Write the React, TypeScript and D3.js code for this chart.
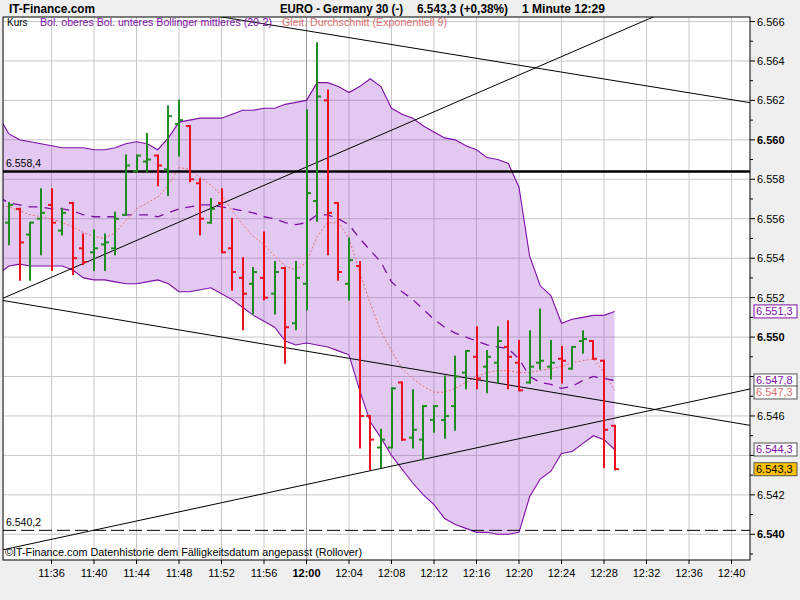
import React from 'react';
import * as d3 from 'd3';

// chart data
const barStart = "11:32";
const opens = [6555.8, 6556.5, 6555.2, 6556.0, 6556.7, 6555.4, 6556.8, 6554.5, 6554.3, 6554.7,
  6554.5, 6556.2, 6558.4, 6558.9, 6559.2, 6558.5, 6560.8, 6560.7, 6557.8, 6555.8,
  6556.8, 6554.5, 6553.0, 6552.7, 6553.0, 6552.2, 6553.5, 6550.7, 6552.7, 6556.9,
  6562.0, 6556.8, 6552.7, 6553.6, 6546.0, 6544.4, 6544.4, 6547.7, 6544.9, 6544.8,
  6545.8, 6545.8, 6546.5, 6548.2, 6549.0, 6548.5, 6548.7, 6549.5, 6548.7, 6547.7,
  6548.7, 6548.5, 6548.9, 6548.4, 6549.8, 6549.8, 6548.8, 6545.5];
const highs = [6556.8, 6556.5, 6555.8, 6557.5, 6557.5, 6556.5, 6556.8, 6555.2, 6555.4, 6555.2,
  6556.3, 6559.2, 6559.2, 6560.3, 6559.2, 6561.7, 6562.0, 6560.7, 6558.0, 6557.0,
  6557.5, 6556.0, 6554.0, 6553.5, 6555.3, 6553.8, 6553.5, 6553.8, 6561.5, 6564.9,
  6562.5, 6556.8, 6555.0, 6553.8, 6546.0, 6545.3, 6547.4, 6547.7, 6547.3, 6546.5,
  6546.5, 6548.0, 6549.0, 6549.3, 6550.5, 6549.3, 6550.5, 6550.8, 6549.8, 6550.3,
  6551.4, 6549.8, 6549.5, 6549.5, 6550.3, 6549.8, 6548.8, 6545.5];
const lows = [6554.7, 6552.9, 6552.9, 6554.2, 6553.4, 6555.2, 6553.2, 6553.7, 6553.4, 6553.4,
  6554.2, 6556.2, 6558.4, 6558.4, 6557.7, 6557.2, 6559.2, 6557.9, 6555.2, 6555.8,
  6554.3, 6552.4, 6550.4, 6551.2, 6551.9, 6551.2, 6548.7, 6550.4, 6551.4, 6555.9,
  6554.2, 6552.9, 6551.9, 6544.4, 6543.3, 6543.4, 6544.4, 6544.8, 6544.4, 6543.8,
  6545.2, 6544.9, 6545.3, 6547.4, 6547.4, 6547.2, 6547.7, 6547.4, 6547.3, 6547.7,
  6548.4, 6547.9, 6547.7, 6548.4, 6549.2, 6548.9, 6543.4, 6543.3];
const closes = [6556.7, 6554.8, 6555.8, 6556.3, 6555.8, 6556.3, 6554.0, 6553.8, 6554.5, 6554.8,
  6556.0, 6558.7, 6559.2, 6559.0, 6558.7, 6561.2, 6561.0, 6558.0, 6556.0, 6556.5,
  6554.3, 6553.3, 6552.2, 6553.3, 6552.0, 6553.3, 6550.5, 6553.0, 6557.3, 6562.2,
  6556.3, 6553.3, 6553.9, 6546.0, 6544.8, 6544.8, 6547.4, 6544.8, 6545.3, 6546.5,
  6546.5, 6546.0, 6548.0, 6549.3, 6547.9, 6549.0, 6549.8, 6549.0, 6547.3, 6548.5,
  6548.8, 6548.7, 6548.8, 6549.5, 6549.9, 6548.9, 6545.3, 6543.3];

const bandStart = "11:31";
const upperBand = [6561.2, 6560.3, 6560.0, 6559.9, 6559.8, 6559.7, 6559.6, 6559.6, 6559.6, 6559.5,
  6559.5, 6559.6, 6559.8, 6559.9, 6559.8, 6559.5, 6560.1, 6560.9, 6561.0, 6561.1,
  6561.1, 6561.1, 6561.3, 6561.5, 6561.5, 6561.6, 6561.6, 6561.8, 6561.9, 6562.0,
  6562.9, 6562.9, 6562.7, 6562.4, 6562.7, 6563.1, 6562.7, 6561.6, 6561.3, 6561.1,
  6560.7, 6560.4, 6560.1, 6560.0, 6559.7, 6559.5, 6559.1, 6559.0, 6558.8, 6557.6,
  6554.1, 6552.6, 6552.1, 6550.7, 6550.9, 6551.0, 6551.1, 6551.1, 6551.3];
const lowerBand = [6553.2, 6553.6, 6553.7, 6553.6, 6553.6, 6553.6, 6553.6, 6553.4, 6553.0, 6552.9,
  6552.9, 6552.8, 6552.7, 6552.7, 6552.8, 6552.9, 6552.7, 6552.3, 6552.3, 6552.4,
  6552.5, 6552.2, 6551.9, 6551.5, 6551.1, 6550.8, 6550.5, 6549.8, 6549.6, 6549.7,
  6549.6, 6549.5, 6549.3, 6549.1, 6547.3, 6545.7, 6544.9, 6544.0, 6543.3, 6542.6,
  6542.0, 6541.5, 6540.8, 6540.5, 6540.3, 6540.1, 6540.1, 6540.0, 6540.0, 6540.1,
  6541.9, 6542.8, 6543.2, 6544.1, 6544.2, 6544.6, 6545.0, 6544.8, 6544.3];
const middleBand = [6557.1, 6556.8, 6556.7, 6556.6, 6556.6, 6556.5, 6556.5, 6556.4, 6556.2, 6556.1,
  6556.1, 6556.1, 6556.2, 6556.2, 6556.2, 6556.1, 6556.3, 6556.5, 6556.6, 6556.7,
  6556.7, 6556.6, 6556.5, 6556.4, 6556.3, 6556.1, 6556.0, 6555.8, 6555.7, 6555.8,
  6556.2, 6556.2, 6556.0, 6555.7, 6555.0, 6554.4, 6553.8, 6552.8, 6552.3, 6551.9,
  6551.4, 6550.9, 6550.5, 6550.2, 6550.0, 6549.8, 6549.6, 6549.5, 6549.4, 6548.9,
  6548.0, 6547.7, 6547.6, 6547.4, 6547.5, 6547.8, 6548.0, 6547.9, 6547.8];
const ema9 = [6556.7, 6556.6, 6556.4, 6556.2, 6556.1, 6556.0, 6555.8, 6555.6, 6555.3, 6555.1,
  6555.0, 6555.3, 6555.9, 6556.5, 6556.8, 6557.1, 6557.7, 6558.6, 6558.5, 6558.1,
  6557.7, 6557.2, 6556.4, 6555.7, 6555.1, 6554.7, 6554.1, 6553.6, 6553.4, 6553.8,
  6555.1, 6555.8, 6555.8, 6555.0, 6553.3, 6551.7, 6550.3, 6549.3, 6548.4, 6547.9,
  6547.5, 6547.2, 6547.2, 6547.4, 6547.7, 6548.0, 6548.2, 6548.3, 6548.3, 6548.2,
  6548.2, 6548.3, 6548.4, 6548.5, 6548.7, 6548.8, 6548.9, 6548.2, 6547.3];

const timeTicks = ["11:36", "11:40", "11:44", "11:48", "11:52", "11:56", "12:00", "12:04", "12:08",
  "12:12", "12:16", "12:20", "12:24", "12:28", "12:32", "12:36", "12:40"];
const priceTicks = [6540, 6542, 6544, 6546, 6548, 6550, 6552, 6554, 6556, 6558, 6560, 6562, 6564, 6566];

// hand-drawn trend lines: two anchor points each [time, price]
const trendLines = [
  [["11:31:24", 6551.96], ["12:31:18", 6565.92]],
  [["11:53:02", 6566.14], ["12:41:41", 6561.89]],
  [["11:31:23", 6551.86], ["12:41:41", 6545.53]],
  [["11:31:23", 6539.21], ["12:41:41", 6547.36]],
];
const resistance = 6558.4;
const support = 6540.2;

const W = 800, H = 600;
const plot = { left: 3, right: 750, top: 17, bottom: 560 };
const font = "'Liberation Sans', Arial, sans-serif";
const GREEN = "#1f8c22", RED = "#ec1020", PURPLE = "#7e0fa6", SALMON = "#e07070";

const de = d3.formatLocale({ decimal: ",", thousands: ".", grouping: [3], currency: ["", ""] });
const f0 = de.format(",.0f");
const f1 = de.format(",.1f");

const toDate = (s: string) => {
  const [h, m, sec] = s.split(":").map(Number);
  return new Date(2020, 0, 6, h, m, sec || 0);
};
const minutesFrom = (start: string, n: number) => d3.range(n).map(i => d3.timeMinute.offset(toDate(start), i));

export default function App() {
  const x = d3.scaleTime().domain([toDate("11:36"), toDate("12:40")]).range([51.5, 731.5]);
  const y = d3.scaleLinear().domain([6540, 6566]).range([534.3, 21.5]);

  const barTimes = minutesFrom(barStart, closes.length);
  const bandTimes = minutesFrom(bandStart, upperBand.length);

  const band = d3.area<number>()
    .x((_, i) => x(bandTimes[i]))
    .y0((_, i) => y(lowerBand[i]))
    .y1(d => y(d));
  const line = (vals: number[]) => d3.line<number>().x((_, i) => x(bandTimes[i])).y(d => y(d))(vals);

  // extend trend lines to the frame edges
  const trendPaths = trendLines.map(([a, b]) => {
    const x1 = x(toDate(a[0] as string)), y1 = y(a[1] as number);
    const x2 = x(toDate(b[0] as string)), y2 = y(b[1] as number);
    const k = (y2 - y1) / (x2 - x1);
    return { x1: plot.left, y1: y1 + (plot.left - x1) * k, x2: plot.right, y2: y1 + (plot.right - x1) * k };
  });

  // last value markers on the right axis
  const markers = [
    { v: upperBand[upperBand.length - 1], color: PURPLE, bg: "#fff", border: PURPLE },
    { v: middleBand[middleBand.length - 1], color: PURPLE, bg: "#fff", border: "#555" },
    { v: ema9[ema9.length - 1], color: SALMON, bg: "#fff", border: "#555" },
    { v: lowerBand[lowerBand.length - 1], color: PURPLE, bg: "#fff", border: "#555" },
    { v: closes[closes.length - 1], color: "#000", bg: "#ffc000", border: "#555" },
  ].map(m => ({ ...m, cy: y(m.v) }));
  markers.sort((a, b) => a.cy - b.cy);
  for (let i = 1; i < markers.length; i++) {
    if (markers[i].cy - markers[i - 1].cy < 12) markers[i].cy = markers[i - 1].cy + 12;
  }
  // axis labels hidden behind a marker box
  const covered = (p: number) => markers.some(m => Math.abs(m.cy - y(p)) < 11);

  const minorPrices = d3.range(6539, 6567, 1);

  return (
    <svg width={W} height={H} style={{ position: 'absolute', left: 0, top: 0, fontFamily: font }}>
      <defs>
        <clipPath id="plotClip">
          <rect x={plot.left} y={plot.top} width={plot.right - plot.left} height={plot.bottom - plot.top} />
        </clipPath>
      </defs>
      <rect width={W} height={H} fill="#efefef" />
      <rect x={plot.left} y={plot.top} width={plot.right - plot.left} height={plot.bottom - plot.top} fill="#fff" />

      {/* header */}
      <text x={9} y={13} fontSize={12.5} fontWeight="bold" textLength={86} lengthAdjust="spacingAndGlyphs">IT-Finance.com</text>
      <text x={280} y={13} fontSize={12.5} fontWeight="bold" textLength={123} lengthAdjust="spacingAndGlyphs">EURO - Germany 30 (-)</text>
      <text x={417} y={13} fontSize={12.5} fontWeight="bold" textLength={91} lengthAdjust="spacingAndGlyphs">{f1(closes[closes.length - 1])} (+0,38%)</text>
      <text x={522} y={13} fontSize={12.5} fontWeight="bold" textLength={83} lengthAdjust="spacingAndGlyphs">1 Minute  12:29</text>

      <g clipPath="url(#plotClip)">
        {/* grid */}
        {priceTicks.map(p => (
          <line key={p} x1={plot.left} x2={plot.right} y1={y(p)} y2={y(p)} stroke="#c8c8c8" />
        ))}
        {timeTicks.map(t => (
          <line key={t} x1={x(toDate(t))} x2={x(toDate(t))} y1={plot.top} y2={plot.bottom}
            stroke={t === "12:00" ? "#9a9a9a" : "#c8c8c8"} />
        ))}

        {/* bollinger */}
        <path d={band(upperBand) || ""} fill="#9933cc" fillOpacity={0.27} stroke="none" />
        <path d={line(upperBand) || ""} fill="none" stroke={PURPLE} strokeWidth={1.1} />
        <path d={line(lowerBand) || ""} fill="none" stroke={PURPLE} strokeWidth={1.1} />
        <path d={line(middleBand) || ""} fill="none" stroke={PURPLE} strokeWidth={1.3} strokeDasharray="9,7" />
        <path d={line(ema9) || ""} fill="none" stroke={SALMON} strokeWidth={1} strokeDasharray="2,2" />

        {/* trend lines */}
        {trendPaths.map((l, i) => (
          <line key={i} {...l} stroke="#000" strokeWidth={1} />
        ))}
        <line x1={plot.left} x2={plot.right} y1={y(resistance)} y2={y(resistance)} stroke="#000" strokeWidth={2.5} />
        <line x1={plot.left} x2={plot.right} y1={y(support)} y2={y(support)} stroke="#000" strokeWidth={1} strokeDasharray="13,5" />

        {/* OHLC bars */}
        {barTimes.map((t, i) => {
          const cx = Math.round(x(t));
          const c = closes[i] > opens[i] ? GREEN : RED;
          return (
            <g key={i} stroke={c} strokeWidth={2}>
              <line x1={cx} x2={cx} y1={y(highs[i]) - 1} y2={y(lows[i]) + 1} />
              <line x1={cx - 4} x2={cx} y1={y(opens[i])} y2={y(opens[i])} />
              <line x1={cx} x2={cx + 4} y1={y(closes[i])} y2={y(closes[i])} />
            </g>
          );
        })}
      </g>

      {/* legend and notes inside plot */}
      <text x={7} y={26} fontSize={10} fill="#000">Kurs</text>
      <text x={40} y={26} fontSize={10} fill={PURPLE} textLength={232} lengthAdjust="spacingAndGlyphs">Bol. oberes Bol. unteres Bollinger mittleres (20-2)</text>
      <text x={282} y={26} fontSize={10} fill={SALMON} textLength={165} lengthAdjust="spacingAndGlyphs">Gleit. Durchschnitt (Exponentiell 9)</text>
      <text x={6} y={y(resistance) - 4} fontSize={10.5} fill="#000">{f1(resistance)}</text>
      <text x={6} y={y(support) - 4} fontSize={10.5} fill="#000">{f1(support)}</text>
      <text x={5} y={556} fontSize={11} fill="#000" textLength={357} lengthAdjust="spacingAndGlyphs">©IT-Finance.com  Datenhistorie dem Fälligkeitsdatum angepasst (Rollover)</text>

      {/* frame */}
      <rect x={plot.left} y={plot.top} width={plot.right - plot.left} height={plot.bottom - plot.top} fill="none" stroke="#000" />

      {/* y axis */}
      {minorPrices.map(p => (
        <line key={p} x1={plot.right} x2={plot.right + (p % 2 === 0 ? 5 : 3)} y1={y(p)} y2={y(p)} stroke="#000" />
      ))}
      {priceTicks.filter(p => !covered(p)).map(p => (
        <text key={p} x={757} y={y(p) + 4} fontSize={11} fontWeight={p % 10 === 0 ? "bold" : "normal"} fill="#000">{f0(p)}</text>
      ))}

      {/* last values */}
      {markers.map((m, i) => (
        <g key={i}>
          <rect x={754} y={m.cy - 6.5} width={43} height={13} fill={m.bg} stroke={m.border} strokeWidth={1} />
          <text x={756} y={m.cy + 4} fontSize={11} fill={m.color}>{f1(m.v)}</text>
        </g>
      ))}

      {/* x axis */}
      {timeTicks.map(t => (
        <g key={t}>
          <line x1={x(toDate(t))} x2={x(toDate(t))} y1={plot.bottom} y2={plot.bottom + 4} stroke="#000" />
          <text x={x(toDate(t))} y={577} fontSize={11} textAnchor="middle" fontWeight={t === "12:00" ? "bold" : "normal"}>{t}</text>
        </g>
      ))}
    </svg>
  );
}
